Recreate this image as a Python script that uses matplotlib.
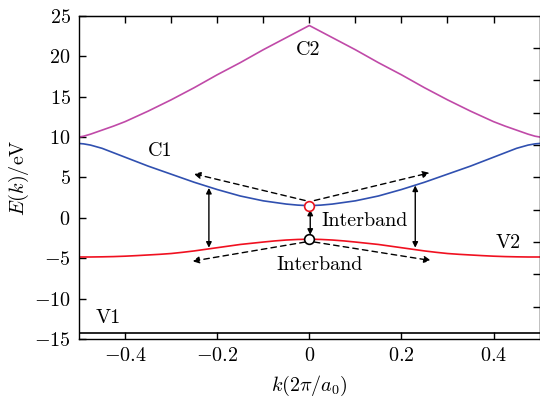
import matplotlib
matplotlib.use("Agg")
import matplotlib.pyplot as plt
import numpy as np

plt.rcParams['font.family'] = 'serif'
plt.rcParams['font.serif'] = ['cmr10']
plt.rcParams['mathtext.fontset'] = 'cm'
plt.rcParams['axes.formatter.use_mathtext'] = True

# Band data
k_half = [-0.5, -0.49, -0.475, -0.45, -0.425, -0.4, -0.375, -0.35, -0.325, -0.3, -0.275, -0.25,
          -0.225, -0.2, -0.175, -0.15, -0.125, -0.1, -0.075, -0.05, -0.025, 0.0]
C2_half = [10.0, 10.1, 10.35, 10.85, 11.35, 11.9, 12.55, 13.2, 13.9, 14.6, 15.35, 16.1,
           16.9, 17.7, 18.45, 19.2, 20.0, 20.8, 21.55, 22.3, 23.05, 23.8]
C1_half = [9.2, 9.15, 9.0, 8.6, 8.05, 7.5, 6.95, 6.4, 5.9, 5.4, 4.9, 4.4,
           3.95, 3.5, 3.1, 2.7, 2.4, 2.1, 1.9, 1.7, 1.57, 1.5]
V2_half = [-4.85, -4.85, -4.85, -4.83, -4.8, -4.75, -4.68, -4.6, -4.52, -4.42, -4.27, -4.1,
           -3.9, -3.7, -3.5, -3.3, -3.15, -3.0, -2.86, -2.75, -2.68, -2.65]
V1_half = [-14.2] * 22

def mirror(vals):
    return vals + vals[-2::-1]

k = k_half + [-v for v in k_half[-2::-1]]
C2 = mirror(C2_half)
C1 = mirror(C1_half)
V2 = mirror(V2_half)
V1 = mirror(V1_half)

# Annotations
vert_arrows = [(-0.218, 3.7, -3.7), (0.23, 4.0, -3.7), (0.002, 1.0, -2.1)]
dash_arrows = [((-0.009, 2.14), (-0.251, 5.45)), ((0.011, 2.14), (0.261, 5.57)),
               ((-0.009, -3.0), (-0.254, -5.37)), ((0.011, -3.0), (0.264, -5.29))]
labels = [("C2", -0.002, 20.8), ("C1", -0.323, 8.25), ("V1", -0.437, -12.35),
          ("V2", 0.432, -3.18), ("Interband", 0.121, -0.42), ("Interband", 0.022, -5.87)]
points = [(0.0, 1.5, '#e8141e'), (0.0, -2.6, 'black')]

fig = plt.figure(figsize=(5.4, 4.01), dpi=100)
ax = fig.add_axes([0.1463, 0.1546, 0.853, 0.806])

ax.plot(k, C2, color='#c04aa8', lw=1.2)
ax.plot(k, C1, color='#3050b0', lw=1.2)
ax.plot(k, V2, color='#f01020', lw=1.2)
ax.plot(k, V1, color='black', lw=1.2)

for x, y1, y2 in vert_arrows:
    ax.annotate('', xy=(x, y2), xytext=(x, y1),
                arrowprops=dict(arrowstyle='<|-|>', color='black', lw=1.0,
                                mutation_scale=8, shrinkA=0, shrinkB=0))
for (x0, y0), (x1, y1) in dash_arrows:
    ax.annotate('', xy=(x1, y1), xytext=(x0, y0),
                arrowprops=dict(arrowstyle='-|>', color='black', lw=1.0, ls=(0, (4, 3)),
                                mutation_scale=10, shrinkA=0, shrinkB=0))
for x, y, c in points:
    ax.plot([x], [y], 'o', ms=7, mfc='white', mec=c, mew=1.2, zorder=5)

for t, x, y in labels:
    ax.text(x, y, t, ha='center', va='center', fontsize=14.5)

ax.set_xlim(-0.5, 0.5)
ax.set_ylim(-15, 25)
ax.set_xticks([-0.4, -0.2, 0, 0.2, 0.4])
ax.set_xticklabels(['$-0.4$', '$-0.2$', '$0$', '$0.2$', '$0.4$'])
ax.set_yticks([-15, -10, -5, 0, 5, 10, 15, 20, 25])
ax.set_yticklabels(['$-15$', '$-10$', '$-5$', '$0$', '$5$', '$10$', '$15$', '$20$', '$25$'])
ax.tick_params(direction='in', length=5, width=1, labelsize=14.5, pad=6)
for s in ax.spines.values():
    s.set_linewidth(1.0)

# top axis ticks every 0.1, right axis ticks every 4
axt = ax.secondary_xaxis('top')
axt.set_xticks([-0.4, -0.3, -0.2, -0.1, 0, 0.1, 0.2, 0.3, 0.4])
axt.tick_params(direction='in', length=5, width=1, labeltop=False)
axr = ax.secondary_yaxis('right')
axr.set_yticks([-11, -7, -3, 1, 5, 9, 13, 17, 21])
axr.tick_params(direction='in', length=5, width=1, labelright=False)

ax.set_xlabel(r'$k(2\pi/a_0)$', fontsize=14.5, labelpad=6)
ax.set_ylabel(r'$E(k)$/eV', fontsize=14.5, labelpad=2)

fig.savefig('out.png', dpi=100)
